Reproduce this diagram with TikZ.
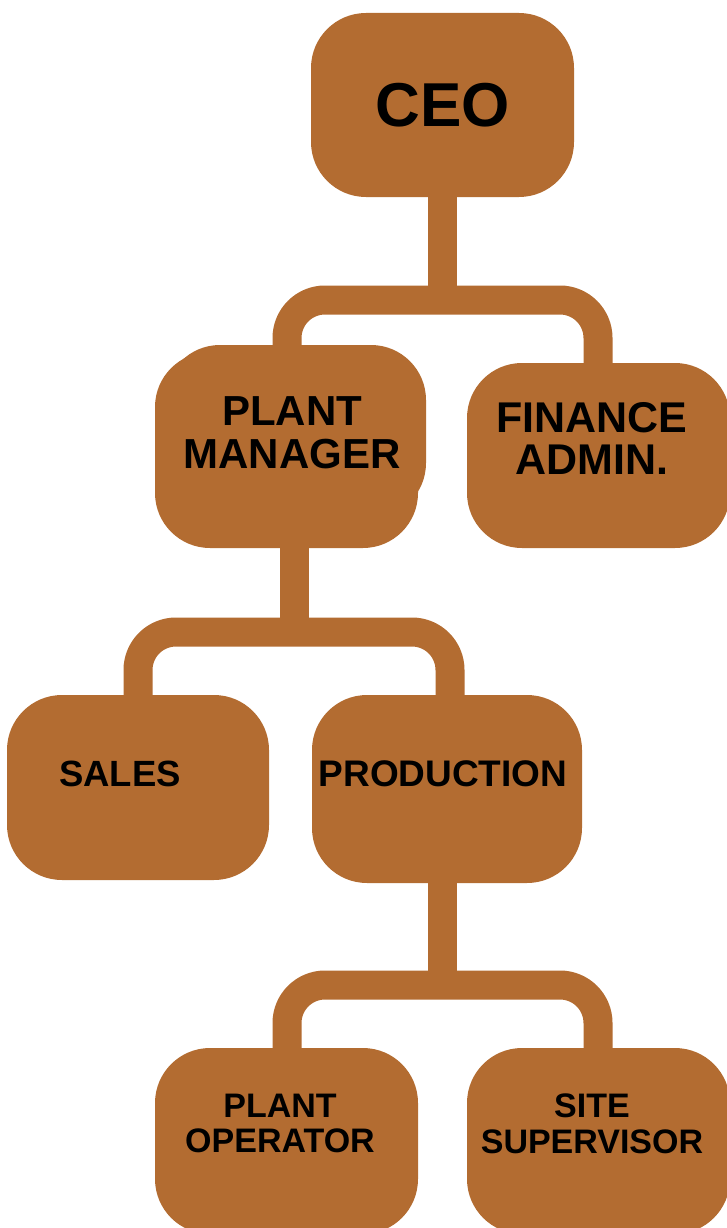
\documentclass[tikz,border=0pt]{standalone}
\usepackage{fontspec}
\setmainfont{Liberation Sans}
\definecolor{rust}{RGB}{179,108,49}
\pgfdeclarelayer{background}
\pgfsetlayers{background,main}
\begin{document}
\begin{tikzpicture}[x=1pt,y=-1pt,
  box/.style={fill=rust,draw=none,rectangle,rounded corners=55pt,inner sep=0pt,outer sep=0pt},
  conn/.style={draw=rust,line width=29pt,rounded corners=38pt,line cap=butt},
  lbl/.style={inner sep=0pt,align=center,text=black,font=\bfseries}]
\useasboundingbox (0,0) rectangle (726,1228);
% junction points of the connectors
\coordinate (j1) at (442.5,300);
\coordinate (l1) at (287,300);
\coordinate (r1) at (598,300);
\coordinate (j2) at (294.5,632);
\coordinate (l2) at (138,632);
\coordinate (r2) at (450,632);
\coordinate (j3) at (442.5,985);
\coordinate (l3) at (287,985);
\coordinate (r3) at (598,985);
% boxes
\node[box,minimum width=263pt,minimum height=184pt] (ceo) at (442.5,105) {};
\node[box,minimum width=263pt,minimum height=196pt] (pmb) at (286.5,450) {};
\node[box,minimum width=261pt,minimum height=173pt] (pma) at (295.5,431.5) {};
\node[box,minimum width=263pt,minimum height=185pt] (fin) at (598.5,455.5) {};
\node[box,minimum width=262pt,minimum height=185pt] (sales) at (138,787.5) {};
\node[box,minimum width=270pt,minimum height=188pt] (prod) at (447,789) {};
\node[box,minimum width=263pt,minimum height=186pt] (op) at (286.5,1141) {};
\node[box,minimum width=263pt,minimum height=186pt] (site) at (598.5,1141) {};
% connectors, behind the boxes
\begin{pgfonlayer}{background}
\draw[conn] (ceo.center) -- (j1);
\draw[conn] (pma.center -| l1) -- (l1) -- (r1) -- (fin.center -| r1);
\draw[conn] (pmb.center -| j2) -- (j2);
\draw[conn] (sales.center -| l2) -- (l2) -- (r2) -- (prod.center -| r2);
\draw[conn] (prod.center -| j3) -- (j3);
\draw[conn] (op.center -| l3) -- (l3) -- (r3) -- (site.center -| r3);
\end{pgfonlayer}
% labels
\node[lbl,font=\bfseries\fontsize{62}{62}\selectfont] (tceo) at (443,105) {CEO};
\node[lbl,font=\bfseries\fontsize{42}{43}\selectfont] (tpm) at (292,432.5) {PLANT\\MANAGER};
\node[lbl,font=\bfseries\fontsize{43}{42}\selectfont] (tfin) at (592,438) {FINANCE\\ADMIN.};
\node[lbl,font=\bfseries\fontsize{36.5}{36.5}\selectfont] (tsales) at (120,774) {SALES};
\node[lbl,font=\bfseries\fontsize{37}{37}\selectfont] (tprod) at (443,774) {PRODUCTION};
\node[lbl,font=\bfseries\fontsize{34}{35}\selectfont] (top) at (280,1123.5) {PLANT\\OPERATOR};
\node[lbl,font=\bfseries\fontsize{34}{36}\selectfont] (tsite) at (592,1124) {SITE\\SUPERVISOR};
\end{tikzpicture}
\end{document}
